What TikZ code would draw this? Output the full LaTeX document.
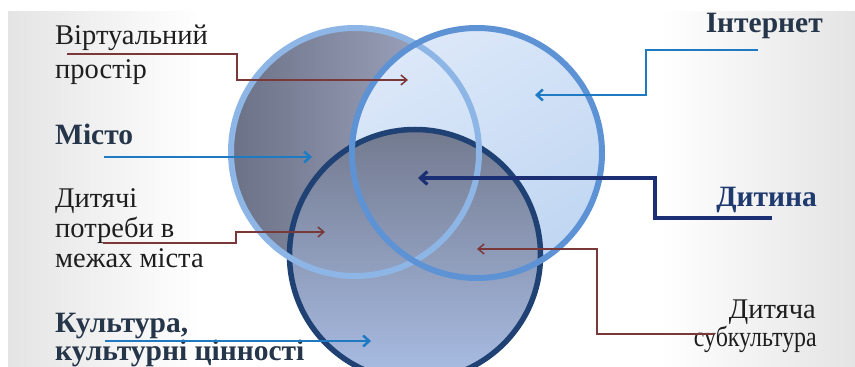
\documentclass[tikz,border=0pt]{standalone}
\usepackage{fontspec}
\setmainfont{Liberation Serif}
\usetikzlibrary{arrows.meta}
\definecolor{bgside}{HTML}{E4E4E4}
\definecolor{afillL}{HTML}{6B7287}
\definecolor{afillR}{HTML}{A7AEC8}
\definecolor{bfillT}{HTML}{DCE8F9}
\definecolor{bfillB}{HTML}{C0D6F2}
\definecolor{cfillT}{HTML}{737A8F}
\definecolor{cfillB}{HTML}{A9BDE4}
\definecolor{aring}{HTML}{8DB6E6}
\definecolor{bring}{HTML}{5D92D4}
\definecolor{cring}{HTML}{1F4173}
\definecolor{brownline}{HTML}{7A3838}
\definecolor{blueline}{HTML}{1F7AC4}
\definecolor{navyline}{HTML}{1C2F75}
\definecolor{txt}{HTML}{1E1E1E}
\definecolor{boldtxt}{HTML}{26364A}
\definecolor{navytxt}{HTML}{1F3A6E}
\tikzset{
  lbl/.style={inner sep=0pt, text=txt, font=\fontsize{28.5}{34}\selectfont},
  blbl/.style={inner sep=0pt, text=boldtxt, font=\fontsize{29.5}{34}\selectfont\bfseries},
  brownarrow/.style={draw=brownline, line width=1.5pt, -{Straight Barb[length=6pt,width=10pt,line width=1.5pt]}},
  bluearrow/.style={draw=blueline, line width=2.5pt, -{Straight Barb[length=6pt,width=11pt,line width=2.5pt]}},
  navyarrow/.style={draw=navyline, line width=3.2pt, -{Straight Barb[length=7pt,width=13pt,line width=3.2pt]}},
}
\begin{document}
\begin{tikzpicture}[x=1pt,y=1pt]
\useasboundingbox (0,0) rectangle (855,367);
\clip (0,0) rectangle (855,367);
\fill[white] (0,0) rectangle (855,367);
\shade[left color=bgside, right color=white] (8,0) rectangle (200,355);
\shade[left color=white, right color=bgside] (660,0) rectangle (855,355);
% fills
\shade[left color=afillL, right color=afillR] (355,215) circle (124);
\shade[top color=bfillT, bottom color=bfillB, shading angle=30] (477,214) circle (125);
\shade[top color=cfillT, bottom color=cfillB] (415,112) circle (125.5);
% rings
\draw[cring, line width=5.5pt] (415,112) circle (125.5);
\draw[aring, line width=6pt] (355,215) circle (124);
\draw[bring, line width=6pt] (477,214) circle (125);
% text
\node[lbl, anchor=base west] (virt1) at (55,322) {Віртуальний};
\node[lbl, anchor=base west] (virt2) at (55,288) {простір};
\node[blbl, anchor=base west] (misto) at (55,222) {Місто};
\node[lbl, anchor=base west] (potr1) at (55,159) {Дитячі};
\node[lbl, anchor=base west] (potr2) at (55,129) {потреби в};
\node[lbl, anchor=base west] (potr3) at (55,99) {межах міста};
\node[blbl, anchor=base west] (kult1) at (55,34) {Культура,};
\node[blbl, anchor=base west] (kult2) at (55,6) {культурні цінності};
\node[blbl, anchor=base east] (inet) at (823,334) {Інтернет};
\node[blbl, anchor=base east, text=navytxt] (dytyna) at (817,160) {Дитина};
\node[lbl, anchor=base east] (sub1) at (816,48) {Дитяча};
\node[lbl, anchor=base east] (sub2) at (817,20) {\scalebox{0.84}[1]{субкультура}};
% connector ends
\coordinate (virtS) at (67,313);
\coordinate (virtT) at (408,287);
\coordinate (mistoS) at (104,210);
\coordinate (mistoT) at (312,210);
\coordinate (potrS) at (103,124);
\coordinate (potrT) at (325,135);
\coordinate (kultS) at (105,26);
\coordinate (kultT) at (371,26);
\coordinate (inetS) at (758,317);
\coordinate (inetT) at (535,272);
\coordinate (dytS) at (772,149);
\coordinate (dytT) at (418,189);
\coordinate (subS) at (715,33);
\coordinate (subT) at (477,118);
% connectors
\draw[brownarrow] (virtS) -- (237,313) -- (237,287) -- (virtT);
\draw[bluearrow] (mistoS) -- (mistoT);
\draw[brownarrow] (potrS) -- (236,124) -- (236,135) -- (potrT);
\draw[bluearrow] (kultS) -- (kultT);
\draw[bluearrow] (inetS) -- (646,317) -- (646,272) -- (inetT);
\draw[navyarrow] (dytS) -- (655,149) -- (655,189) -- (dytT);
\draw[brownarrow] (subS) -- (597,33) -- (597,118) -- (subT);
\end{tikzpicture}
\end{document}
